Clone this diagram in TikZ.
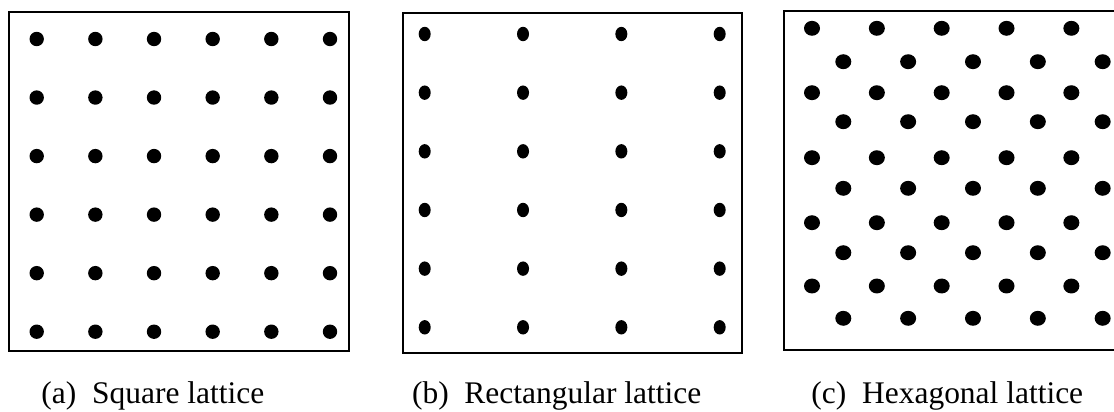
\documentclass[tikz,border=0pt]{standalone}
\usepackage{fontspec}
\setmainfont{Liberation Serif}
\usetikzlibrary{positioning}

\begin{document}
\begin{tikzpicture}
		[x = 0.75pt, y = -0.75pt,
		frame/.style={line width=1.5pt,black,line cap=butt},
		site/.style={fill=black},
		caption/.style={anchor=base west,inner sep=0pt,font=\fontsize{23.6}{28}\selectfont}
		]
        \useasboundingbox (0,0) rectangle (1114,411);

        % Square lattice
        \def \x {36.7}
        \def \y {39}
        \def \dx {58.66}
        \def \dy {58.54}
        \draw[frame] (8.8,11.5) rectangle (348.5,350.5);
        \foreach \i in {0,...,5}
            \foreach \j in {0,...,5}
                \fill[site] (\x+\i*\dx,\y+\j*\dy) ellipse [x radius=5.4pt, y radius=5.4pt];

        % Rectangular lattice
        \def \x {424.7}
        \def \y {34}
        \def \dx {98.33}
        \def \dy {58.66}
        \draw[frame] (402.8,13.2) rectangle (742.2,353.2);
        \foreach \i in {0,...,3}
            \foreach \j in {0,...,5}
                \fill[site] (\x+\i*\dx,\y+\j*\dy) ellipse [x radius=4.5pt, y radius=5.4pt];

        % Hexagonal lattice
        \def \dx {64.84}
        \draw[frame] (1120,11.2) -- (784,11.2) -- (784,349.8) -- (1120,349.8);
        \foreach \y in {28.3,92.7,157.7,222.7,286}
            \foreach \i in {0,...,4}
                \fill[site] (812+\i*\dx,\y) ellipse [x radius=6.0pt, y radius=5.6pt];
        \foreach \y in {61.7,121.7,188.3,252.7,318.3}
            \foreach \i in {0,...,4}
                \fill[site] (843.3+\i*\dx,\y) ellipse [x radius=6.0pt, y radius=5.6pt];

        % captions
        \node[caption] (capA) at (41.2,403) {(a)\hspace{0.5em}Square lattice};
        \node[caption] (capB) at (411.8,403) {(b)\hspace{0.5em}Rectangular lattice};
        \node[caption] (capC) at (811.2,403) {(c)\hspace{0.5em}Hexagonal lattice};
\end{tikzpicture}
\end{document}
